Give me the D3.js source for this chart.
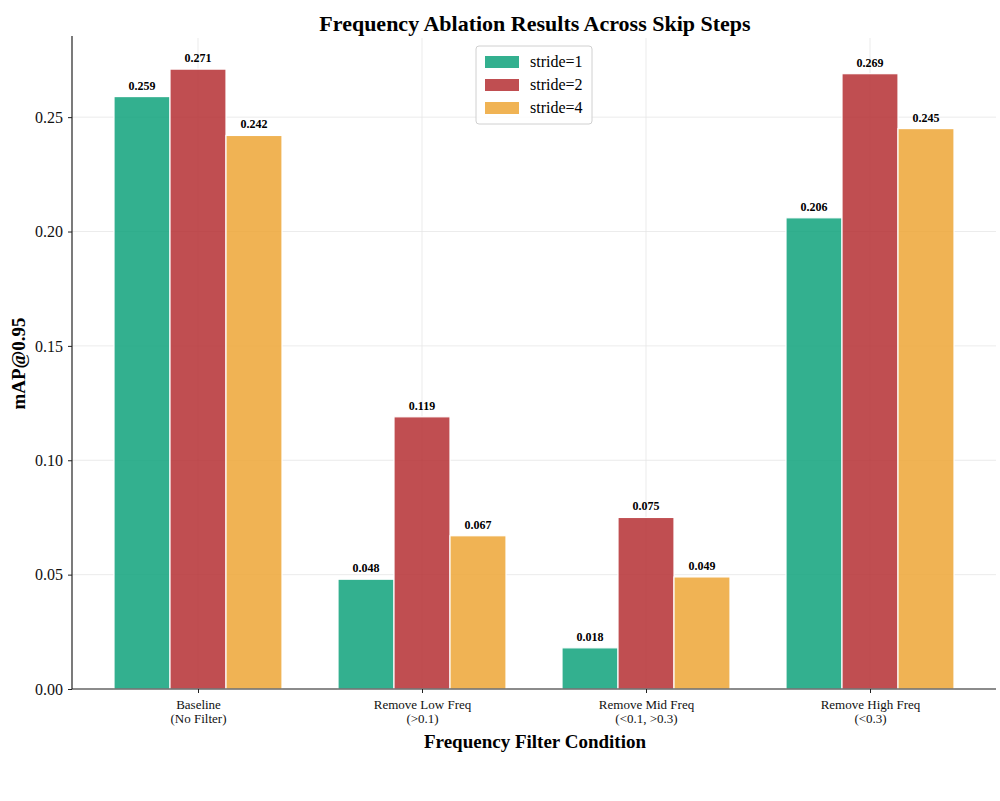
<!DOCTYPE html>
<html><head><meta charset="utf-8">
<script src="https://cdn.jsdelivr.net/npm/d3@7"></script>
<style>body{margin:0;background:#fff;} svg{display:block;font-family:"Liberation Serif","Times New Roman",serif;}</style>
</head><body>
<svg id="c" width="1000" height="801"></svg>
<script>
const categories = ["Baseline\n(No Filter)", "Remove Low Freq\n(>0.1)", "Remove Mid Freq\n(<0.1, >0.3)", "Remove High Freq\n(<0.3)"];
const seriesNames = ["stride=1", "stride=2", "stride=4"];
const stride1 = [0.259, 0.048, 0.018, 0.206];
const stride2 = [0.271, 0.119, 0.075, 0.269];
const stride4 = [0.242, 0.067, 0.049, 0.245];
const yTicks = [0.00, 0.05, 0.10, 0.15, 0.20, 0.25];
const colors = ["#0fa27b", "#b52f32", "#eda636"];

const series = [stride1, stride2, stride4];
const svg = d3.select("#c");
const L = 72, R = 996, T = 38, B = 689;
const barW = 0.25;
const x = d3.scaleLinear().domain([-0.5625, 3.5625]).range([L, R]);
const y = d3.scaleLinear().domain([0, 0.2846]).range([B, T]);

// grid
const g = svg.append("g");
g.selectAll(".hg").data(yTicks).join("line")
  .attr("x1", L).attr("x2", R).attr("y1", d => y(d)).attr("y2", d => y(d))
  .attr("stroke", "#e6e6e6").attr("stroke-width", 0.8);
g.selectAll(".vg").data(categories.map((c,i)=>i)).join("line")
  .attr("x1", d => x(d)).attr("x2", d => x(d)).attr("y1", T).attr("y2", B)
  .attr("stroke", "#e6e6e6").attr("stroke-width", 0.8);

// bars
series.forEach((s, si) => {
  const off = (si - 1) * barW;
  svg.append("g").selectAll("rect").data(s).join("rect")
    .attr("x", (d, i) => x(i + off - barW / 2))
    .attr("width", (d, i) => x(i + off + barW / 2) - x(i + off - barW / 2))
    .attr("y", d => y(d)).attr("height", d => B - y(d))
    .attr("fill", colors[si]).attr("fill-opacity", 0.85)
    .attr("stroke", "#fff").attr("stroke-width", 1.2);
  svg.append("g").selectAll("text").data(s).join("text")
    .attr("x", (d, i) => x(i + off)).attr("y", d => y(d) - 7)
    .attr("text-anchor", "middle").attr("font-size", 12).attr("font-weight", "bold")
    .text(d => d.toFixed(3));
});

// axes
const ya = svg.append("g").attr("transform", `translate(${L},0)`)
  .call(d3.axisLeft(y).tickValues(yTicks).tickFormat(d3.format(".2f")).tickSize(4).tickPadding(5));
ya.select(".domain").attr("stroke", "#222").attr("stroke-width", 1.2).attr("d", `M0,${B}V${T-2}`);
ya.selectAll("text").attr("font-size", 16).attr("fill", "#111").attr("font-family", "Liberation Serif");
ya.selectAll(".tick line").attr("stroke", "#222");

const xa = svg.append("g").attr("transform", `translate(0,${B})`)
  .call(d3.axisBottom(x).tickValues([0,1,2,3]).tickFormat("").tickSize(4));
xa.select(".domain").attr("stroke", "#222").attr("stroke-width", 1.2).attr("d", `M${L},0H${R}`);
xa.selectAll(".tick line").attr("stroke", "#222");
xa.selectAll(".tick").each(function(d) {
  const lines = categories[d].split("\n");
  const t = d3.select(this).append("text").attr("fill", "#111").attr("font-size", 13)
    .attr("font-family", "Liberation Serif").attr("text-anchor", "middle");
  lines.forEach((ln, k) => t.append("tspan").attr("x", 0).attr("y", 20 + k * 14).text(ln));
});

// titles
svg.append("text").attr("x", 535).attr("y", 31).attr("text-anchor", "middle")
  .attr("font-size", 22).attr("font-weight", "bold").text("Frequency Ablation Results Across Skip Steps");
svg.append("text").attr("x", 535).attr("y", 748).attr("text-anchor", "middle")
  .attr("font-size", 19).attr("font-weight", "bold").text("Frequency Filter Condition");
svg.append("text").attr("transform", `translate(25,${(T+B)/2}) rotate(-90)`).attr("text-anchor", "middle")
  .attr("font-size", 19).attr("font-weight", "bold").text("mAP@0.95");

// legend
const lg = svg.append("g").attr("transform", "translate(476,46)");
lg.append("rect").attr("width", 116).attr("height", 78).attr("rx", 3)
  .attr("fill", "#fff").attr("fill-opacity", 0.8).attr("stroke", "#d0d0d0");
seriesNames.forEach((n, i) => {
  lg.append("rect").attr("x", 9).attr("y", 10 + i * 23).attr("width", 34).attr("height", 12)
    .attr("fill", colors[i]).attr("fill-opacity", 0.85);
  lg.append("text").attr("x", 54).attr("y", 21 + i * 23).attr("font-size", 16).text(n);
});
</script>
</body></html>
